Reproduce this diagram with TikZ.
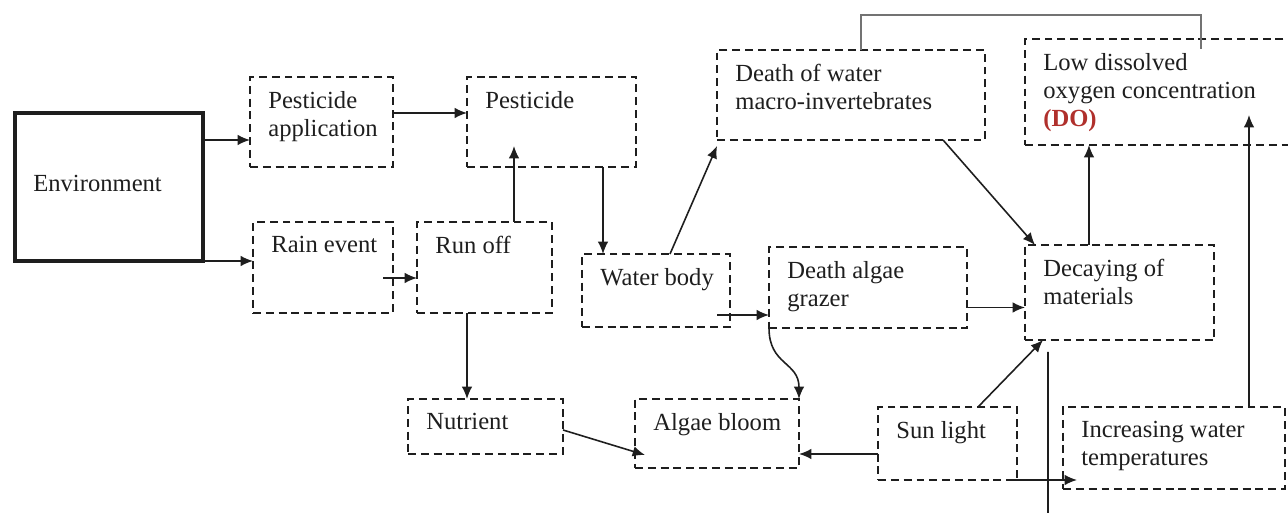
\documentclass[tikz,border=0pt]{standalone}
\usepackage{fontspec}
\setmainfont{Liberation Serif}
\usepackage{tikz}
\usetikzlibrary{arrows.meta}
\definecolor{ink}{HTML}{1E1E1E}
\definecolor{dored}{HTML}{B0302C}

\begin{document}
\begin{tikzpicture}[
  font=\fontsize{14}{16}\selectfont, text=ink,
  box/.style={draw=ink, dash pattern=on 4.5pt off 2.8pt, line width=1.1pt, inner sep=0pt, outer sep=0pt},
  txt/.style={anchor=north west, xshift=0.36cm, yshift=-0.28cm, inner sep=0pt, align=left},
  arr/.style={draw=ink, line width=0.9pt, -{Latex[length=7pt,width=6pt]}},
  plain/.style={draw=ink, line width=0.9pt},
  bracket/.style={draw=black!55, line width=1.3pt},
]
  \useasboundingbox (0,0) rectangle (25.76,10.26);

  \node[draw=ink, line width=2.4pt, minimum width=3.76cm, minimum height=2.96cm, inner sep=0pt, outer sep=0pt,
    label={[txt, yshift=-0.96cm]north west:Environment}] (env) at (2.18,6.52) {};
  \node[box, minimum width=2.86cm, minimum height=1.8cm, label={[txt]north west:{Pesticide\\application}}] (pa) at (6.43,7.82) {};
  \node[box, minimum width=2.8cm, minimum height=1.82cm, label={[txt]north west:{Rain event}}] (rain) at (6.46,4.91) {};
  \node[box, minimum width=3.38cm, minimum height=1.8cm, label={[txt]north west:{Pesticide}}] (pest) at (11.03,7.82) {};
  \node[box, minimum width=2.7cm, minimum height=1.82cm, label={[txt]north west:{Run off}}] (runoff) at (9.69,4.91) {};
  \node[box, minimum width=2.96cm, minimum height=1.46cm, label={[txt]north west:{Water body}}] (water) at (13.12,4.45) {};
  \node[box, minimum width=5.36cm, minimum height=1.8cm, label={[txt]north west:{Death of water\\macro-invertebrates}}] (macro) at (17.02,8.36) {};
  \node[box, minimum width=5.5cm, minimum height=2.12cm, label={[txt]north west:{Low dissolved\\oxygen concentration\\\textcolor{dored}{\textbf{(DO)}}}}] (lowdo) at (23.25,8.42) {};
  \node[box, minimum width=3.96cm, minimum height=1.62cm, label={[txt]north west:{Death algae\\grazer}}] (grazer) at (17.36,4.51) {};
  \node[box, minimum width=3.78cm, minimum height=1.9cm, label={[txt]north west:{Decaying of\\materials}}] (decay) at (22.39,4.41) {};
  \node[box, minimum width=3.1cm, minimum height=1.1cm, label={[txt]north west:{Nutrient}}] (nutrient) at (9.71,1.73) {};
  \node[box, minimum width=3.28cm, minimum height=1.38cm, label={[txt]north west:{Algae bloom}}] (algae) at (14.34,1.59) {};
  \node[box, minimum width=2.78cm, minimum height=1.46cm, label={[txt]north west:{Sun light}}] (sun) at (18.95,1.39) {};
  \node[box, minimum width=4.44cm, minimum height=1.64cm, label={[txt]north west:{Increasing water\\temperatures}}] (temp) at (23.48,1.30) {};

  \coordinate (nutout) at (9.58,0);
  \coordinate (decayin) at (20.96,0);

  \draw[arr] ([yshift=0.94cm]env.east) -- ([yshift=-0.36cm]pa.west);
  \draw[arr] (env.south east) -- (env.south east -| rain.west);
  \draw[arr] ([yshift=0.18cm]pa.east) -- ([yshift=0.18cm]pa.east -| pest.west);
  \draw[arr] ([xshift=-0.2cm,yshift=-0.21cm]rain.east) -- ([yshift=-0.21cm]rain.east -| runoff.west);
  \draw[arr] ([xshift=0.59cm]runoff.north) -- ([xshift=0.59cm,yshift=0.42cm]runoff.north |- pest.south);
  \draw[arr] ([xshift=1.03cm]pest.south) -- ([xshift=1.03cm]pest.south |- water.north);
  \draw[arr] ([xshift=0.28cm]water.north) -- ([yshift=-0.12cm]macro.south west);
  \draw[arr] ([xshift=-0.26cm,yshift=-0.49cm]water.east) -- ([yshift=-0.49cm]water.east -| grazer.west);
  \draw[arr] ([xshift=-0.35cm]runoff.south) -- ([xshift=-0.35cm]runoff.south |- nutrient.north);
  \draw[arr] ([yshift=-0.07cm]nutrient.east) -- ([xshift=0.2cm,yshift=-0.43cm]algae.west);
  \draw[plain, draw=black!60] ([xshift=-0.13cm]nutrient.south) -- (nutrient.south -| nutout);
  \draw[arr] (grazer.south west) .. controls +(0,-0.75) and +(0,0.75) .. (algae.north east);
  \draw[arr] ([yshift=-0.4cm]grazer.east) -- ([yshift=-0.4cm]grazer.east -| decay.west);
  \draw[arr] ([xshift=1.84cm]macro.south) -- ([xshift=0.2cm]decay.north west);
  \draw[arr] ([xshift=-0.61cm]decay.north) -- ([xshift=-0.61cm]decay.north |- lowdo.south);
  \draw[arr] ([xshift=1.5cm]temp.north) -- ([xshift=1.5cm,yshift=0.6cm]temp.north |- lowdo.south);
  \draw[arr] ([yshift=-0.21cm]sun.west) -- ([yshift=-0.21cm]sun.west -| algae.east);
  \draw[arr] ([xshift=0.61cm]sun.north) -- ([xshift=0.36cm]decay.south west);
  \draw[arr] ([xshift=-0.2cm]sun.south east) -- ([xshift=0.28cm]sun.south east -| temp.west);
  \draw[plain] (decayin) -- ([xshift=0.46cm,yshift=-0.24cm]decay.south west);
  \draw[bracket] ([xshift=0.2cm]macro.north) |- ([xshift=0.77cm,yshift=0.48cm]lowdo.north) -- ([xshift=0.77cm,yshift=-0.2cm]lowdo.north);
\end{tikzpicture}
\end{document}
